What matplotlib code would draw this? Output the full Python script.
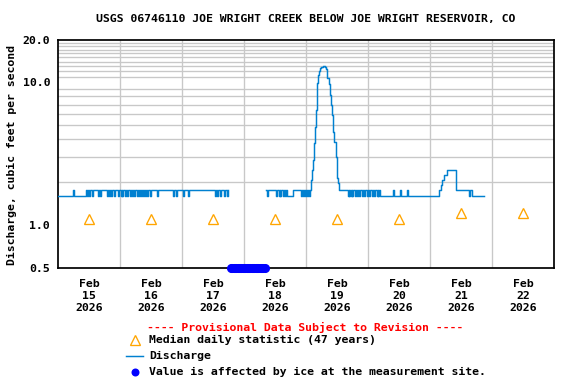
import matplotlib
matplotlib.use("Agg")
import matplotlib.pyplot as plt
from matplotlib.lines import Line2D
import numpy as np

plt.rcParams['font.family'] = ['DejaVu Sans Mono']
plt.rcParams['font.weight'] = 'bold'
plt.rcParams['font.size'] = 8.6

# hours since Feb 15 2026 00:00
LOW = 1.6
HIGH = 1.75

# section A: Feb 15 00:00 - Feb 17 ~18:00
a_low_end = 10.7
a_low_spikes = [5.7]
a_end = 66.0
a_dips = [11.3, 12.0, 13.3, 15.4, 16.3, 19.1, 19.9, 20.5, 21.6, 23.3, 24.3, 24.9,
          26.0, 26.8, 27.9, 28.8, 29.5, 30.5, 31.3, 32.0, 32.9, 33.7, 34.4, 35.5,
          38.2, 44.6, 45.7, 48.4, 50.3, 60.6, 61.6, 62.7, 64.2, 65.3]

# section B: after the ice gap, up to the rise
b_start = 80.4
b_dips = [81.0, 84.3, 85.5, 85.9, 87.2, 88.0, 94.0, 94.8, 95.6, 96.4, 97.1]
b_low = (88.5, 90.8)
b_end = 97.8

# section C: peak of Feb 19
peak_t = [97.8, 98.2, 98.6, 99.1, 99.3, 99.7, 100.1, 100.5, 101.0, 101.4, 102.0,
          102.7, 103.3, 103.7, 104.2, 104.9, 105.3, 105.7, 106.2, 106.6, 107.0,
          107.5, 107.9, 108.2]
peak_q = [2.06, 2.42, 2.85, 3.74, 4.84, 6.37, 9.83, 11.2, 12.1, 12.7, 12.9,
          13.1, 12.9, 12.5, 10.8, 9.8, 8.1, 6.9, 5.87, 4.47, 3.80,
          2.99, 2.13, 1.97]

# section D: recession back to base
d_start = 108.6
d_dips = [112.1, 112.7, 113.4, 113.9, 114.9, 115.7, 116.6, 117.6, 118.4, 119.5,
          120.4, 121.4, 122.4, 123.3, 124.0]
d_low_start = 124.6
d_low_spikes = [129.8, 132.4, 135.0]

# section E: small bump on Feb 21
bump_t = [147.6, 148.1, 148.5, 149.4, 150.4, 153.9, 159.2, 159.6, 160.1, 165.0]
bump_q = [1.75, 1.90, 2.06, 2.24, 2.42, 1.75, 1.6, 1.75, 1.6, 1.6]

# ice-affected times (plotted at bottom of graph)
ice_t = [67, 67.5, 68, 68.5, 69, 69.5, 70, 70.5, 71, 71.5, 72, 72.5, 73, 73.5,
         74, 74.5, 75, 75.5, 76, 76.5, 77, 77.5, 78, 78.5, 79, 79.5, 80]

# median daily statistic
med_t = [12, 36, 60, 84, 108, 132, 156, 180]
med_q = [1.11, 1.11, 1.11, 1.11, 1.11, 1.11, 1.21, 1.21]

day_labels = ["Feb\n15\n2026", "Feb\n16\n2026", "Feb\n17\n2026", "Feb\n18\n2026",
              "Feb\n19\n2026", "Feb\n20\n2026", "Feb\n21\n2026", "Feb\n22\n2026"]


def toggles(t0, t1, base, other, marks, w=0.4):
    t, v = [t0], [base]
    for m in marks:
        t += [m, m + w]
        v += [other, base]
    return t, v


t, q = toggles(0, a_low_end, LOW, HIGH, a_low_spikes)
tt, vv = toggles(a_low_end, a_end, HIGH, LOW, a_dips)
t += tt + [a_end, np.nan]
q += vv + [HIGH, np.nan]

tt, vv = toggles(b_start, b_low[0], HIGH, LOW, [d for d in b_dips if d < b_low[0]])
t += tt
q += vv
tt, vv = toggles(b_low[0], b_low[1], LOW, HIGH, [])
t += tt
q += vv
tt, vv = toggles(b_low[1], b_end, HIGH, LOW, [d for d in b_dips if d > b_low[1]])
t += tt
q += vv
t += peak_t
q += peak_q
tt, vv = toggles(d_start, d_low_start, HIGH, LOW, d_dips)
t += tt
q += vv
tt, vv = toggles(d_low_start, bump_t[0], LOW, HIGH, d_low_spikes)
t += tt
q += vv
t += bump_t
q += bump_q

fig = plt.figure(figsize=(6, 4), dpi=96)
ax = fig.add_axes([58 / 576, 1 - 268 / 384, 496 / 576, 228.5 / 384])

ax.plot(t, q, color='#0080D0', lw=1.1, drawstyle='steps-post', zorder=3)
ax.plot(med_t, med_q, ls='none', marker='^', ms=7.5, mfc='none', mec='#FFA500',
        mew=1.0, zorder=4)
ax.plot(ice_t, [0.5] * len(ice_t), ls='none', marker='o', ms=6.8, color='#0000FF',
        mew=0, clip_on=False, zorder=5)

ax.set_yscale('log')
ax.set_ylim(0.5, 20)
ax.set_xlim(0, 192)
ax.set_yticks([0.5, 1, 10, 20])
ax.set_yticklabels(["0.5", "1.0", "10.0", "20.0"])
ax.set_yticks(list(range(1, 21)), minor=True)
ax.yaxis.set_minor_formatter(plt.NullFormatter())
ax.set_xticks(med_t)
ax.set_xticklabels(day_labels, linespacing=1.3)
ax.set_xticks([24, 48, 72, 96, 120, 144, 168], minor=True)
ax.grid(True, which='minor', color='#C8C8C8', lw=1.0)
ax.grid(False, which='major')
ax.tick_params(which='both', length=0)
ax.tick_params(axis='y', pad=6)
ax.tick_params(axis='x', pad=8)
for s in ax.spines.values():
    s.set_linewidth(1.3)

fig.text(306 / 576, 1 - 19 / 384, "USGS 06746110 JOE WRIGHT CREEK BELOW JOE WRIGHT RESERVOIR, CO",
         ha='center', va='center')
fig.text(12 / 576, 1 - 155 / 384, "Discharge, cubic feet per second", rotation=90,
         ha='center', va='center')

fig.text(305 / 576, 1 - 327 / 384, "---- Provisional Data Subject to Revision ----",
         color='#FF0000', ha='center', va='center')
legend_items = ["Median daily statistic (47 years)", "Discharge",
                "Value is affected by ice at the measurement site."]
for i, txt in enumerate(legend_items):
    fig.text(149 / 576, 1 - (340 + 16 * i) / 384, txt, ha='left', va='center')
fig.add_artist(Line2D([135 / 576], [1 - 340 / 384], marker='^', ms=7, mfc='none',
                      mec='#FFA500', mew=1.0, ls='none'))
fig.add_artist(Line2D([126 / 576, 143 / 576], [1 - 356 / 384] * 2, color='#0080D0', lw=1.1))
fig.add_artist(Line2D([135 / 576], [1 - 372 / 384], marker='o', ms=6, color='#0000FF',
                      mew=0, ls='none'))

fig.savefig("out.png", dpi=96)
